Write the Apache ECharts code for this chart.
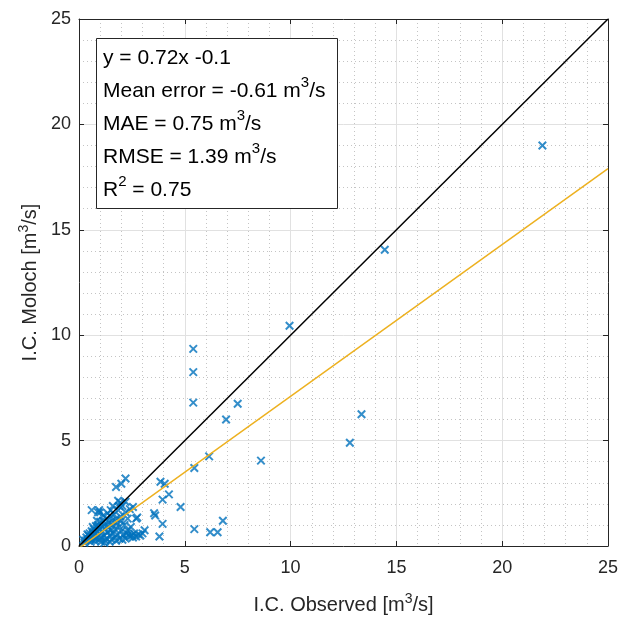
<!DOCTYPE html>
<html>
<head>
<meta charset="utf-8">
<script src="https://cdn.jsdelivr.net/npm/echarts@6/dist/echarts.min.js"></script>
<style>
html,body{margin:0;padding:0;background:#fff;}
#chart{width:628px;height:618px;}
</style>
</head>
<body>
<div id="chart"></div>
<script>
// Observed vs Moloch discharge points [observed, moloch]
var points = [
  [21.9,19.0],[14.45,14.05],[9.95,10.45],[5.4,9.35],[5.4,8.25],[5.4,6.8],[7.5,6.75],
  [6.95,6.0],[13.35,6.25],[12.8,4.9],[8.6,4.05],[6.15,4.25],[5.45,3.7],[5.45,0.8],
  [6.2,0.65],[6.55,0.65],[6.8,1.2],[4.8,1.85],[4.25,2.45],[3.85,3.05],[4.05,2.95],
  [3.95,2.2],[3.6,1.45],[3.95,1.05],[3.1,0.75],[3.8,0.45],[2.75,1.35],[2.55,1.85],
  [2.3,0.75],[2.2,3.2],[2.0,2.95],[1.75,2.8],[3.55,1.55],[2.7,1.3],
  [0.3,0.25],[0.35,0.4],[0.4,0.3],[0.45,0.5],[0.5,0.35],[0.5,0.6],[0.55,0.45],[0.6,0.7],
  [0.6,0.3],[0.65,0.55],[0.7,0.8],[0.7,0.4],[0.75,0.6],[0.8,0.95],[0.8,0.35],[0.85,0.7],
  [0.9,0.5],[0.9,1.0],[0.95,0.8],[1.0,0.6],[1.0,1.15],[1.05,0.4],[1.1,0.9],[1.1,0.7],
  [1.15,1.2],[1.2,0.5],[1.2,1.0],[1.25,0.8],[1.3,1.3],[1.3,0.35],[1.35,0.65],[1.4,1.1],
  [1.4,0.9],[1.45,0.5],[1.5,1.4],[1.5,0.75],[1.55,1.2],[1.6,0.6],[1.6,1.0],[1.65,1.5],
  [1.7,0.8],[1.7,0.4],[1.75,1.3],[1.8,1.1],[1.8,0.55],[1.85,1.7],[1.9,0.9],[1.95,1.4],
  [2.0,0.7],[2.0,1.2],[2.05,1.9],[2.1,0.5],[2.15,1.0],[2.2,1.6],[2.25,0.6],[2.3,1.3],
  [2.4,0.45],[2.45,0.9],[2.5,0.5],[2.6,0.6],[2.7,0.45],[2.8,0.55],[2.9,0.5],[3.0,0.6],
  [2.35,0.55],[2.55,0.4],[1.35,1.55],[1.0,1.6],[0.9,1.6],[0.6,1.7],[0.95,1.7],[1.5,1.7],
  [1.85,2.15],[1.95,2.05],[1.9,1.9],[0.4,0.55],[0.25,0.15],[0.2,0.3],[0.55,0.2],[0.75,0.25],
  [1.05,0.2],[1.25,0.25],[1.55,0.3],[1.9,0.35],[2.2,0.35],[0.65,0.9],[0.85,1.2],[1.15,1.45],
  [1.6,1.9],[2.4,1.75],[2.2,2.1],[1.2,0.15],[1.45,0.2],[1.75,0.25],[2.05,0.3],[0.95,0.3]
];
// 1:1 line and regression line endpoints
var identityLine = [[0,0],[25,25]];
var fitLine = [[0,-0.1],[25,17.9]];
var axisMin = 0, axisMax = 25, axisStep = 5;
var statsLines = [
  '{n|y = 0.72x -0.1}',
  '{n|Mean error = -0.61 m}{s|3}{n|/s}',
  '{n|MAE = 0.75 m}{s|3}{n|/s}',
  '{n|RMSE = 1.39 m}{s|3}{n|/s}',
  '{n|R}{s|2}{n| = 0.75}'
];
var xTitle = '{n|I.C. Observed [m}{s|3}{n|/s]}';
var yTitle = '{n|I.C. Moloch [m}{s|3}{n|/s]}';

var FONT = 'Liberation Sans, Arial, Helvetica, sans-serif';
var TXT = '#262626';
var titleRich = {
  n: {fontSize: 20, fontFamily: FONT, color: TXT, lineHeight: 26},
  s: {fontSize: 14, fontFamily: FONT, color: TXT, lineHeight: 18, verticalAlign: 'top'}
};

function mkAxis(pos, isMain, isX) {
  var a = {
    type: 'value', min: axisMin, max: axisMax, interval: axisStep, position: pos,
    axisLine: {show: true, onZero: false, lineStyle: {color: TXT, width: 1}},
    axisTick: {show: true, inside: true, length: 5, lineStyle: {color: TXT, width: 1}},
    axisLabel: {show: isMain, fontSize: 18, fontFamily: FONT, color: TXT, margin: isX ? 13 : 8},
    splitLine: {show: isMain, lineStyle: {color: '#e1e1e1', width: 1}},
    minorTick: {show: false, splitNumber: 5},
    minorSplitLine: {show: isMain, lineStyle: {color: '#c4c4c4', width: 1, type: [1, 3]}}
  };
  if (isMain) {
    a.name = isX ? xTitle : yTitle;
    a.nameLocation = 'middle';
    a.nameGap = isX ? 46 : 32;
    a.nameTextStyle = {rich: titleRich};
  }
  return a;
}

var chart = echarts.init(document.getElementById('chart'), null, {renderer: 'canvas'});
chart.setOption({
  animation: false,
  backgroundColor: '#ffffff',
  grid: {left: 79, right: 20, top: 19, bottom: 72, containLabel: false, outerBoundsMode: 'none'},
  xAxis: [mkAxis('bottom', true, true), mkAxis('top', false, true)],
  yAxis: [mkAxis('left', true, false), mkAxis('right', false, false)],
  series: [
    {
      type: 'scatter', data: points,
      symbol: 'path://M0,0L10,10M10,0L0,10', symbolSize: 7.5,
      itemStyle: {color: '#0072BD', borderColor: '#0072BD', borderWidth: 2},
      z: 2
    },
    {
      type: 'line', data: identityLine, symbol: 'none', clip: true,
      lineStyle: {color: '#000000', width: 1.5}, z: 3
    },
    {
      type: 'line', data: fitLine, symbol: 'none', clip: true,
      lineStyle: {color: '#EDB120', width: 1.5}, z: 3
    }
  ],
  graphic: [
    {
      type: 'rect', left: 96, top: 38, z: 10,
      shape: {width: 241, height: 170},
      style: {fill: '#ffffff', stroke: '#262626', lineWidth: 1}
    },
    {
      type: 'text', left: 103, top: 48, z: 11,
      style: {
        text: statsLines.join('\n'),
        rich: {
          n: {fontSize: 21, fontFamily: FONT, fill: '#000000', lineHeight: 33},
          s: {fontSize: 15, fontFamily: FONT, fill: '#000000', lineHeight: 22, verticalAlign: 'top'}
        }
      }
    }
  ]
});
</script>
</body>
</html>
